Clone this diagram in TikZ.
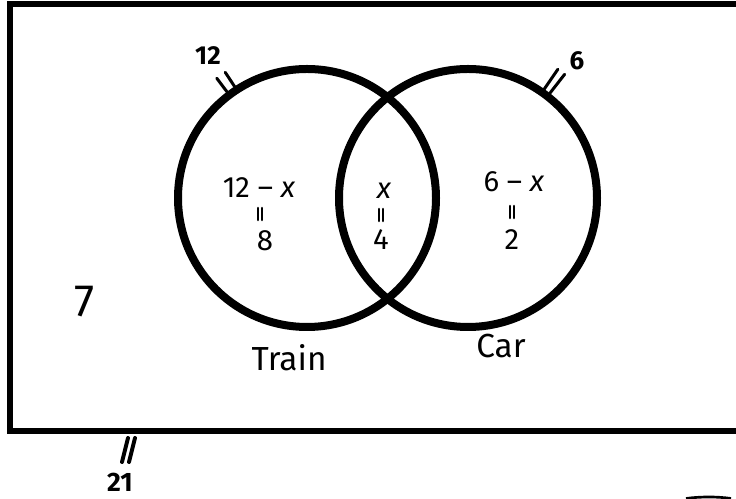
\documentclass[tikz,border=0pt]{standalone}
\usepackage{fontspec}
\setmainfont{Fira Sans}
\usepackage{tikz}
\usetikzlibrary{positioning}
\tikzset{
    setcircle/.style={
        circle,
        draw,
        line width=6pt,
        minimum size=193.5pt,
        inner sep=0pt
    },
    region/.style={font=\fontsize{22}{26}\selectfont, inner sep=0pt},
    setname/.style={font=\fontsize{25}{30}\selectfont, inner sep=0pt},
    total/.style={font=\fontsize{19.5}{23}\selectfont\bfseries, inner sep=0pt},
    tick/.style={line width=2.25pt, line cap=round},
    equalbar/.style={line width=1.9pt, line cap=round}
}

\begin{document}
\begin{tikzpicture}[x=0.75pt, y=0.75pt]
    \clip (0,0) rectangle (736,499);

    % universal set (right side runs off the page)
    \draw [line width=4.5pt] (760,494.5) -- (9.5,494.5) -- (9.5,67.5) -- (760,67.5);

    \node (train) [setcircle] at (307,301) {};
    \node (car) [setcircle] at (468,301) {};

    % regions
    \node (onlytrain) [region] at (259,311) {12 -- \textit{x}};
    \node (valtrain) [region] at (265,258) {8};

    \node (both) [region] at (384,308) {\textit{x}};
    \node (valboth) [region] at (381,259) {4};

    \node (onlycar) [region] at (514,317) {6 -- \textit{x}};
    \node (valcar) [region] at (512,259) {2};

    % vertical equals signs
    \foreach \cx/\cy in {260/285, 381/284, 512/287} {
        \draw [equalbar] (\cx-2.2,\cy+6) -- (\cx-2.2,\cy-6);
        \draw [equalbar] (\cx+2.2,\cy+6) -- (\cx+2.2,\cy-6);
    }

    \node (neither) [font=\fontsize{34}{40}\selectfont, inner sep=0pt] at (85,197) {7};

    \node (trainname) [setname] at (289,141) {Train};
    \node (carname) [setname] at (501,153) {Car};

    % totals
    \foreach \a in {123.5,127} \draw [tick] (train.\a) -- ++(\a:12.75pt);
    \node (traintotal) [total] at (208,443) {12};
    \foreach \a in {52,55.5} \draw [tick] (car.\a) -- ++(\a:18pt);
    \node (cartotal) [total] at (577,438) {6};

    \draw [tick, line width=3pt] (128,61) -- (122,37);
    \draw [tick, line width=3pt] (135,61) -- (129,37);
    \node (alltotal) [total, font=\fontsize{20}{24}\selectfont\bfseries] at (120,17) {21};

    \draw [line width=2pt] (686,0.5) .. controls (700,2.5) and (718,2.5) .. (731,0.5);
\end{tikzpicture}
\end{document}
